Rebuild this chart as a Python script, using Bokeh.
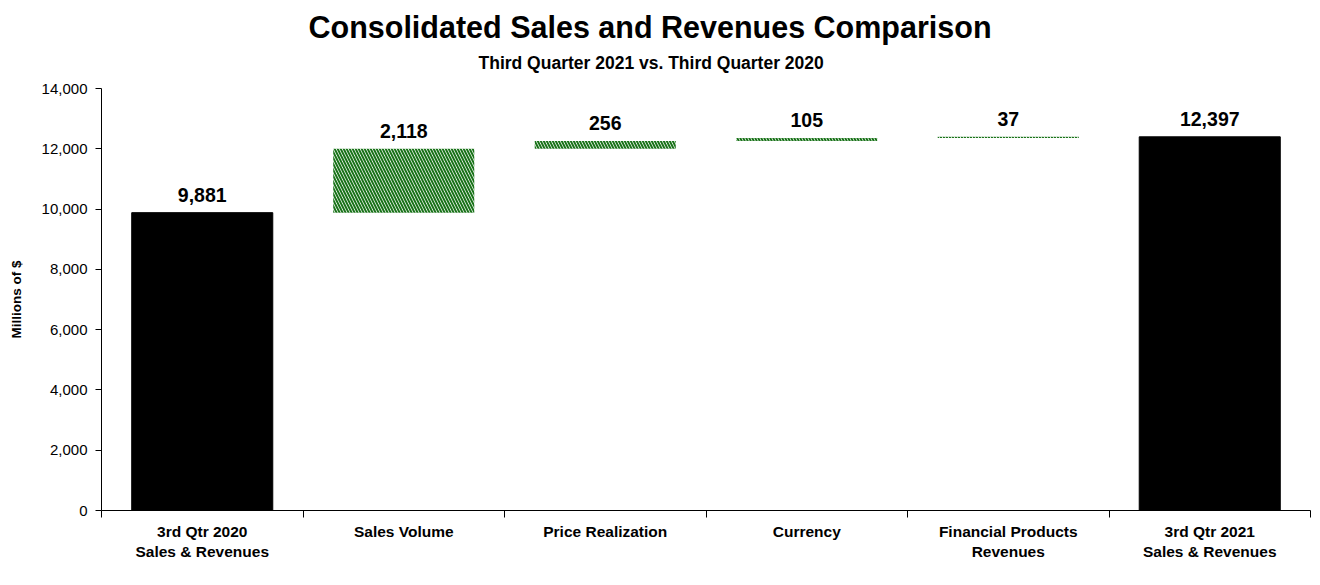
from bokeh.plotting import figure
from bokeh.models import FixedTicker, Title, Range1d, NumeralTickFormatter
from bokeh.core.properties import value
from bokeh.embed import file_html
from bokeh.resources import INLINE

categories = ["3rd Qtr 2020\nSales & Revenues", "Sales Volume", "Price Realization",
              "Currency", "Financial Products\nRevenues", "3rd Qtr 2021\nSales & Revenues"]
start_value = 9881
changes = [2118, 256, 105, 37]
end_value = 12397
y_ticks = [0, 2000, 4000, 6000, 8000, 10000, 12000, 14000]

FONT = "Liberation Sans"

n = len(categories)
centers = [i + 0.5 for i in range(n)]

# cumulative positions for the waterfall
bottoms = []
tops = []
run = start_value
for c in changes:
    bottoms.append(run)
    run += c
    tops.append(run)

p = figure(width=1312, height=577, output_backend="svg", toolbar_location=None,
           x_range=Range1d(0, n), y_range=Range1d(0, 14000),
           min_border_left=101, min_border_right=2, min_border_bottom=67, min_border_top=0)

p.add_layout(Title(text="Third Quarter 2021 vs. Third Quarter 2020", align="left", offset=377,
                   text_font=FONT, text_font_size="17.5px", text_font_style="bold",
                   text_color="black", standoff=31), "above")
p.add_layout(Title(text="Consolidated Sales and Revenues Comparison", align="left", offset=207,
                   text_font=FONT, text_font_size="30.5px", text_font_style="bold",
                   text_color="black", standoff=-17), "above")
p.add_layout(Title(text=" ", align="left", text_font=FONT, text_font_size="12.5px",
                   standoff=0), "above")

p.grid.visible = False
p.outline_line_color = None
p.background_fill_color = "white"
p.border_fill_color = "white"

# black total bars
p.vbar(x=[centers[0], centers[-1]], width=0.7, bottom=0, top=[start_value, end_value],
       fill_color="black", line_color="black")

# hatched change bars
p.vbar(x=centers[1:-1], width=0.7, bottom=bottoms, top=tops,
       fill_color="white", line_color=None,
       hatch_pattern="\\", hatch_color="#1a731a", hatch_scale=6, hatch_weight=2)

# value labels
label_x = centers
label_y = [start_value] + tops + [end_value]
label_txt = [f"{v:,}" for v in [start_value] + changes + [end_value]]
p.text(x=label_x, y=label_y, text=label_txt, y_offset=-11, text_align="center",
       text_baseline="bottom", text_font=value(FONT), text_font_size="19.5px",
       text_font_style="bold", text_color="black")

# axes
p.xaxis.ticker = FixedTicker(ticks=centers, minor_ticks=list(range(n + 1)))
p.xaxis.major_label_overrides = {c: lab for c, lab in zip(centers, categories)}
p.xaxis.major_tick_line_color = None
p.xaxis.minor_tick_line_color = "black"
p.xaxis.minor_tick_out = 7
p.xaxis.minor_tick_in = 0
p.xaxis.axis_line_color = "black"
p.xaxis.major_label_text_font = FONT
p.xaxis.major_label_text_font_size = "15.5px"
p.xaxis.major_label_text_font_style = "bold"
p.xaxis.major_label_text_color = "black"
p.xaxis.major_label_standoff = 5

p.yaxis.ticker = FixedTicker(ticks=y_ticks, minor_ticks=[])
p.yaxis.formatter = NumeralTickFormatter(format="0,0")
p.yaxis.axis_label = "Millions of $"
p.yaxis.axis_label_text_font = FONT
p.yaxis.axis_label_text_font_size = "13.5px"
p.yaxis.axis_label_text_font_style = "bold"
p.yaxis.axis_label_text_color = "black"
p.yaxis.axis_label_standoff = 15
p.yaxis.major_label_text_font = FONT
p.yaxis.major_label_text_font_size = "15px"
p.yaxis.major_label_text_color = "black"
p.yaxis.major_tick_out = 6
p.yaxis.major_tick_in = 0
p.yaxis.axis_line_color = "black"
p.yaxis.major_tick_line_color = "black"
p.yaxis.major_label_standoff = 8

open("out.html", "w").write(file_html(p, INLINE))
